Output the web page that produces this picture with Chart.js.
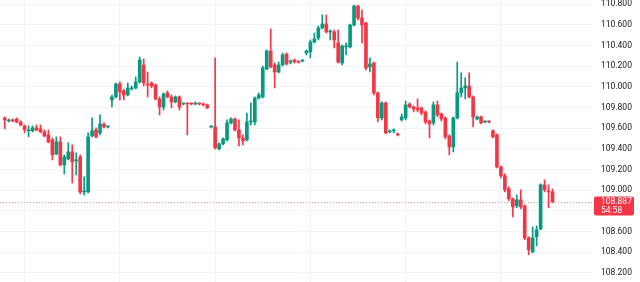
<!DOCTYPE html>
<html>
<head>
<meta charset="utf-8">
<script src="https://cdn.jsdelivr.net/npm/chart.js@4.4.0/dist/chart.umd.min.js"></script>
<style>
  html, body { margin: 0; padding: 0; background: #fff; }
  #wrap { width: 640px; height: 282px; position: relative; }
</style>
</head>
<body>
<div id="wrap"><canvas id="chart"></canvas></div>
<script>
// candles, oldest first
const opens = [
  109.699, 109.670, 109.680, 109.689, 109.660, 109.622, 109.574, 109.574, 109.603, 109.593,
  109.564, 109.535, 109.487, 109.351, 109.467, 109.245, 109.303, 109.371, 109.284, 109.322,
  108.984, 108.984, 109.525, 109.583, 109.554, 109.641, 109.612, 109.873, 109.902, 110.028,
  109.960, 109.921, 109.979, 109.989, 110.047, 110.211, 110.028, 110.037, 110.018, 109.883,
  109.805, 109.941, 109.902, 109.854, 109.902, 109.834, 109.836, 109.836, 109.834, 109.836,
  109.834, 109.825, 109.612, 109.612, 109.400, 109.448, 109.487, 109.651, 109.689, 109.583,
  109.506, 109.487, 109.660, 109.660, 109.892, 109.902, 110.172, 110.346, 110.211, 110.143,
  110.211, 110.317, 110.240, 110.259, 110.240, 110.250, 110.327, 110.337, 110.433, 110.472,
  110.568, 110.607, 110.530, 110.530, 110.424, 110.230, 110.385, 110.385, 110.597, 110.781,
  110.665, 110.617, 110.192, 110.230, 109.941, 109.699, 109.844, 109.564, 109.574, 109.545,
  109.680, 109.699, 109.834, 109.805, 109.796, 109.796, 109.757, 109.670, 109.651, 109.825,
  109.738, 109.699, 109.525, 109.419, 109.699, 109.941, 109.989, 110.008, 109.902, 109.689,
  109.709, 109.660, 109.662, 109.574, 109.535, 109.226, 109.139, 109.013, 108.917, 108.849,
  108.907, 108.849, 108.540, 108.405, 108.550, 108.627, 109.052, 108.994, 108.984
];
const highs = [
  109.709, 109.689, 109.689, 109.699, 109.670, 109.631, 109.622, 109.622, 109.631, 109.631,
  109.583, 109.583, 109.506, 109.516, 109.516, 109.342, 109.458, 109.438, 109.361, 109.342,
  109.129, 109.554, 109.699, 109.603, 109.728, 109.651, 109.622, 109.921, 110.037, 110.047,
  109.979, 110.037, 110.008, 110.095, 110.288, 110.269, 110.143, 110.047, 110.028, 109.902,
  109.941, 109.960, 109.921, 109.912, 109.912, 109.844, 109.844, 109.844, 109.854, 109.844,
  109.844, 109.834, 109.622, 110.279, 109.458, 109.506, 109.680, 109.699, 109.699, 109.680,
  109.535, 109.747, 109.844, 109.902, 109.941, 110.201, 110.356, 110.559, 110.230, 110.240,
  110.327, 110.327, 110.259, 110.269, 110.250, 110.259, 110.356, 110.453, 110.520, 110.588,
  110.694, 110.694, 110.549, 110.549, 110.549, 110.404, 110.424, 110.607, 110.791, 110.791,
  110.742, 110.626, 110.279, 110.240, 109.950, 109.854, 109.854, 109.583, 109.593, 109.554,
  109.738, 109.863, 109.844, 109.815, 109.883, 109.805, 109.767, 109.680, 109.854, 109.863,
  109.747, 109.709, 109.535, 109.709, 110.240, 110.134, 110.086, 110.134, 109.912, 109.718,
  109.718, 109.670, 109.670, 109.583, 109.545, 109.235, 109.158, 109.033, 108.926, 108.955,
  109.004, 108.859, 108.550, 108.646, 108.656, 109.062, 109.100, 109.052, 109.013
];
const lows = [
  109.593, 109.660, 109.660, 109.651, 109.622, 109.554, 109.516, 109.564, 109.574, 109.554,
  109.516, 109.458, 109.293, 109.342, 109.235, 109.158, 109.293, 109.071, 109.148, 108.965,
  108.955, 108.975, 109.516, 109.506, 109.535, 109.603, 109.603, 109.805, 109.892, 109.873,
  109.873, 109.912, 109.970, 109.979, 110.037, 110.008, 109.902, 109.989, 109.873, 109.728,
  109.776, 109.892, 109.796, 109.844, 109.776, 109.825, 109.535, 109.825, 109.825, 109.825,
  109.815, 109.790, 109.603, 109.400, 109.390, 109.438, 109.477, 109.641, 109.574, 109.429,
  109.438, 109.477, 109.631, 109.631, 109.883, 109.892, 110.163, 110.182, 109.989, 110.134,
  110.201, 110.211, 110.221, 110.230, 110.230, 110.240, 110.308, 110.279, 110.424, 110.453,
  110.559, 110.520, 110.453, 110.375, 110.230, 110.211, 110.308, 110.375, 110.588, 110.646,
  110.424, 110.163, 110.143, 109.921, 109.660, 109.680, 109.545, 109.554, 109.554, 109.525,
  109.670, 109.680, 109.796, 109.757, 109.757, 109.728, 109.641, 109.506, 109.631, 109.709,
  109.670, 109.496, 109.342, 109.371, 109.689, 109.902, 109.883, 109.892, 109.612, 109.680,
  109.641, 109.651, 109.651, 109.506, 109.216, 109.120, 108.984, 108.897, 108.743, 108.830,
  108.820, 108.521, 108.376, 108.395, 108.463, 108.617, 108.984, 108.830, 108.878
];
const closes = [
  109.680, 109.680, 109.670, 109.660, 109.631, 109.583, 109.583, 109.603, 109.583, 109.564,
  109.525, 109.467, 109.342, 109.467, 109.245, 109.322, 109.371, 109.274, 109.293, 108.984,
  108.994, 109.516, 109.574, 109.516, 109.641, 109.612, 109.614, 109.902, 110.028, 109.950,
  109.921, 109.989, 109.989, 110.047, 110.259, 110.037, 110.018, 110.008, 109.883, 109.805,
  109.931, 109.902, 109.854, 109.902, 109.805, 109.836, 109.834, 109.834, 109.836, 109.834,
  109.825, 109.796, 109.614, 109.409, 109.448, 109.496, 109.651, 109.689, 109.583, 109.506,
  109.477, 109.660, 109.670, 109.892, 109.921, 110.182, 110.346, 110.192, 110.143, 110.211,
  110.308, 110.221, 110.242, 110.240, 110.238, 110.252, 110.346, 110.433, 110.462, 110.568,
  110.607, 110.530, 110.532, 110.453, 110.240, 110.395, 110.395, 110.597, 110.781, 110.665,
  110.597, 110.182, 110.221, 109.941, 109.699, 109.844, 109.554, 109.574, 109.576, 109.535,
  109.709, 109.825, 109.805, 109.786, 109.776, 109.747, 109.660, 109.641, 109.825, 109.728,
  109.689, 109.516, 109.419, 109.699, 109.941, 109.989, 110.008, 109.902, 109.709, 109.709,
  109.651, 109.662, 109.660, 109.516, 109.226, 109.139, 109.004, 108.917, 108.839, 108.907,
  108.839, 108.540, 108.424, 108.540, 108.617, 109.052, 109.004, 108.984, 108.887
];
const priceTicks = [108.2, 108.4, 108.6, 108.8, 109.0, 109.2, 109.4, 109.6, 109.8, 110.0, 110.2, 110.4, 110.6, 110.8];
const timeGridAt = [5, 29, 53, 77, 101, 125];
const lastPrice = 108.887;
const countdown = "54:58";

const UP = "#089981";
const DOWN = "#f23645";
const GRID = "#f0f3fa";

const idx = opens.map((_, i) => i);
const candleColors = idx.map((i) => (closes[i] >= opens[i] ? UP : DOWN));

const priceLine = {
  id: "priceLine",
  beforeDatasetsDraw(chart) {
    const { ctx, chartArea } = chart;
    const y = Math.round(chart.scales.y.getPixelForValue(lastPrice)) + 0.5;
    ctx.save();
    ctx.strokeStyle = "rgba(242,54,69,0.55)";
    ctx.lineWidth = 1;
    ctx.setLineDash([1, 2]);
    ctx.beginPath();
    ctx.moveTo(chartArea.left, y);
    ctx.lineTo(chartArea.right, y);
    ctx.stroke();
    ctx.restore();
  },
  afterDraw(chart) {
    const { ctx, chartArea } = chart;
    const y = chart.scales.y.getPixelForValue(lastPrice);
    const x0 = chartArea.right + 1;
    ctx.save();
    ctx.fillStyle = DOWN;
    ctx.beginPath();
    ctx.roundRect(x0, y - 5.5, 40, 19, 2);
    ctx.fill();
    ctx.fillStyle = "#ffffff";
    ctx.font = "8.5px Roboto";
    ctx.textBaseline = "middle";
    ctx.textAlign = "left";
    ctx.fillText(lastPrice.toFixed(3), chartArea.right + 8, y);
    ctx.fillText(countdown, chartArea.right + 8, y + 9);
    ctx.restore();
  },
};

new Chart(document.getElementById("chart"), {
  type: "bar",
  data: {
    datasets: [
      {
        label: "wick",
        data: idx.map((i) => ({ x: i, y: [lows[i], highs[i]] })),
        backgroundColor: candleColors,
        barThickness: 1,
        grouped: false,
        order: 2,
      },
      {
        label: "body",
        data: idx.map((i) => ({ x: i, y: [opens[i], closes[i]] })),
        backgroundColor: candleColors,
        barThickness: 3,
        minBarLength: 1,
        grouped: false,
        order: 1,
      },
    ],
  },
  options: {
    animation: false,
    responsive: true,
    maintainAspectRatio: false,
    layout: { padding: 0 },
    plugins: { legend: { display: false }, tooltip: { enabled: false } },
    scales: {
      x: {
        type: "linear",
        min: -1.2,
        max: 148.2,
        offset: false,
        ticks: { display: false },
        grid: { color: GRID, drawTicks: false, offset: false },
        border: { display: false },
        afterBuildTicks: (s) => { s.ticks = timeGridAt.map((v) => ({ value: v })); },
        afterFit: (s) => { s.height = 0; },
      },
      y: {
        position: "right",
        min: 108.113,
        max: 110.839,
        ticks: {
          color: "#131722",
          font: { family: "Roboto", size: 8.5 },
          padding: 8,
          callback: (v) => Number(v).toFixed(3),
        },
        grid: { color: GRID, drawTicks: false },
        border: { display: false },
        afterBuildTicks: (s) => { s.ticks = priceTicks.map((v) => ({ value: v })); },
        afterFit: (s) => { s.width = 47; s.paddingTop = 0; s.paddingBottom = 0; },
      },
    },
  },
  plugins: [priceLine],
});
</script>
</body>
</html>
